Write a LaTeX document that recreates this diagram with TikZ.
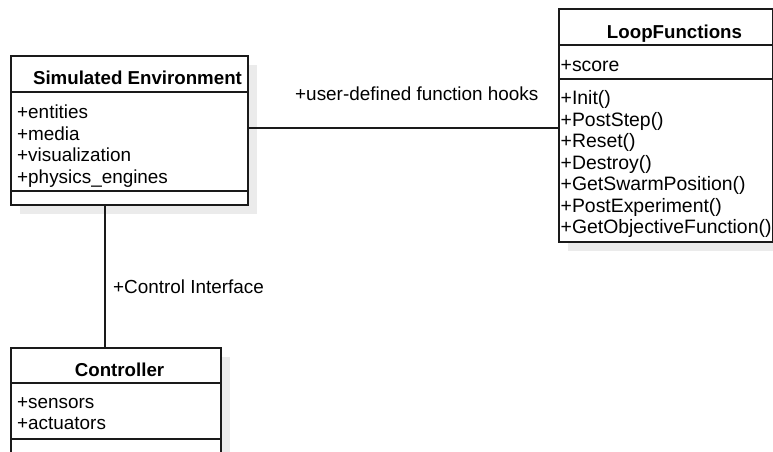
\documentclass[tikz,border=0pt]{standalone}
\usepackage{fontspec}
\setmainfont{Liberation Sans}
\usetikzlibrary{calc}
\definecolor{linec}{HTML}{1A1A1A}
\definecolor{shadowc}{HTML}{EBEBEB}
\begin{document}
\begin{tikzpicture}[x=1pt,y=-1pt,
  classbox/.style={draw=linec, line width=1.6pt, fill=white, rectangle,
    inner sep=0pt, anchor=north west},
  member/.style={inner sep=0pt, anchor=base west, text=black,
    font=\fontsize{18.9}{21.5}\selectfont},
  widemember/.style={member, font=\fontsize{19.4}{21.5}\selectfont},
  title/.style={inner sep=0pt, anchor=base, text=black,
    font=\fontsize{18.7}{21.5}\selectfont\bfseries},
  divider/.style={draw=linec, line width=1.6pt},
  assoc/.style={draw=linec, line width=1.5pt},
  shade/.style={fill=shadowc, draw=none}]
\useasboundingbox (0,0) rectangle (773,452);
\clip (0,0) rectangle (773,452);
\fill[white] (0,0) rectangle (773,452);

% drop shadows
\fill[shade] (20,65) rectangle (257,214);
\fill[shade] (568,18) rectangle (782,251);
\fill[shade] (20,357) rectangle (230,462);

% class: Simulated Environment
\node[classbox, minimum width=237pt, minimum height=149pt] (SE) at (10,55) {};
\draw[divider] (SE.west |- 0,92) -- (SE.east |- 0,92);
\draw[divider] (SE.west |- 0,191) -- (SE.east |- 0,191);
\node[title] (SEt) at (137.5,84) {Simulated Environment};
\node[member] (SEa1) at (17,118.5) {+entities};
\node[member] (SEa2) at (17,140) {+media};
\node[member] (SEa3) at (17,161.5) {+visualization};
\node[member] (SEa4) at (17,183) {+physics\_engines};

% class: LoopFunctions
\node[classbox, minimum width=214pt, minimum height=233pt] (LF) at (558,8) {};
\draw[divider] (LF.west |- 0,45) -- (LF.east |- 0,45);
\draw[divider] (LF.west |- 0,79) -- (LF.east |- 0,79);
\node[title] (LFt) at (674.5,38) {LoopFunctions};
\node[widemember] (LFa1) at (560.5,71.5) {+score};
\node[widemember] (LFm1) at (560.5,104.5) {+Init()};
\node[widemember] (LFm2) at (560.5,126) {+PostStep()};
\node[widemember] (LFm3) at (560.5,147.5) {+Reset()};
\node[widemember] (LFm4) at (560.5,169) {+Destroy()};
\node[widemember] (LFm5) at (560.5,190.5) {+GetSwarmPosition()};
\node[widemember] (LFm6) at (560.5,212) {+PostExperiment()};
\node[widemember] (LFm7) at (560.5,233.5) {+GetObjectiveFunction()};

% class: Controller
\node[classbox, minimum width=210pt, minimum height=105pt] (CT) at (10,347) {};
\draw[divider] (CT.west |- 0,383) -- (CT.east |- 0,383);
\draw[divider] (CT.west |- 0,439) -- (CT.east |- 0,439);
\node[title] (CTt) at (119.5,376) {Controller};
\node[member] (CTa1) at (17,408) {+sensors};
\node[member] (CTa2) at (17,429.5) {+actuators};

% associations
\coordinate (hookY) at (0,128);
\coordinate (ctrlX) at (105,0);
\draw[assoc] (SE.east |- hookY) -- (LF.west |- hookY);
\draw[assoc] (SE.south -| ctrlX) -- (CT.north -| ctrlX);
\node[member] (hookL) at (295,100.5) {+user-defined function hooks};
\node[member] (ctrlL) at (113,293.5) {+Control Interface};
\end{tikzpicture}
\end{document}
